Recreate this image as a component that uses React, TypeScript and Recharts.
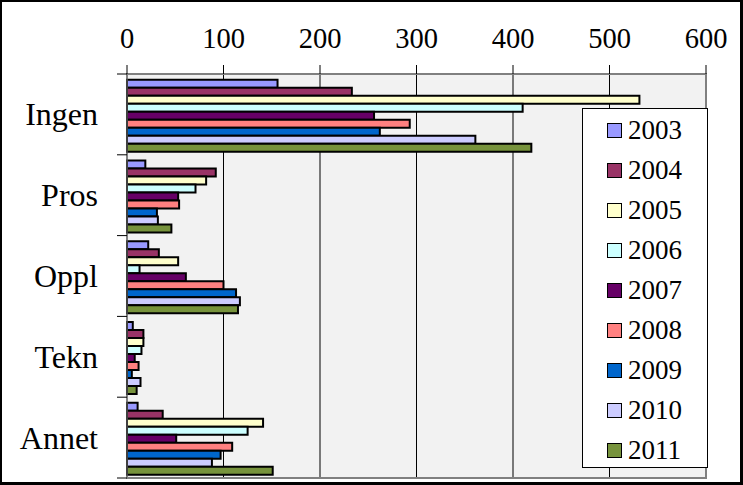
import {
  Bar,
  BarChart,
  CartesianGrid,
  Legend,
  ReferenceArea,
  XAxis,
  YAxis,
} from 'recharts'

const CATEGORIES = ['Ingen', 'Pros', 'Oppl', 'Tekn', 'Annet']
const YEARS = ['2003', '2004', '2005', '2006', '2007', '2008', '2009', '2010', '2011']
const X_TICKS = [0, 100, 200, 300, 400, 500, 600]

const V2003 = [156, 19, 22, 6, 11]
const V2004 = [233, 92, 33, 17, 37]
const V2005 = [531, 82, 53, 17, 141]
const V2006 = [410, 71, 13, 15, 125]
const V2007 = [256, 53, 61, 8, 51]
const V2008 = [293, 54, 100, 12, 109]
const V2009 = [262, 31, 113, 5, 97]
const V2010 = [361, 32, 117, 14, 88]
const V2011 = [419, 46, 115, 10, 151]

const SERIES = [V2003, V2004, V2005, V2006, V2007, V2008, V2009, V2010, V2011]

const COLORS = [
  '#9999FF',
  '#993366',
  '#FFFFCC',
  '#CCFFFF',
  '#660066',
  '#FF8080',
  '#0066CC',
  '#CCCCFF',
  '#77933C',
]

const W = 743
const H = 485
const PLOT_TOP = 74
const PLOT_BOTTOM = 478
const PLOT_LEFT = 127
const PLOT_RIGHT = 706
const BAND = (PLOT_BOTTOM - PLOT_TOP) / CATEGORIES.length
const FONT = '"Liberation Serif", "Times New Roman", serif'

const data = CATEGORIES.map((name, i) => {
  const row: Record<string, string | number> = { name }
  YEARS.forEach((y, j) => {
    row[y] = SERIES[j][i]
  })
  return row
})

function CategoryTick(props: any) {
  const { x, y, payload, index } = props
  const top = y - BAND / 2
  const last = index === CATEGORIES.length - 1
  return (
    <g>
      <line x1={PLOT_LEFT - 10} x2={PLOT_LEFT} y1={top} y2={top} stroke="#000" />
      {last && (
        <line
          x1={PLOT_LEFT - 10}
          x2={PLOT_LEFT}
          y1={top + BAND}
          y2={top + BAND}
          stroke="#000"
        />
      )}
      <text
        x={x}
        y={y}
        dy={11}
        textAnchor="end"
        fill="#000"
        fontSize={32}
        fontFamily={FONT}
      >
        {payload.value}
      </text>
    </g>
  )
}

function LegendBox(props: any) {
  const items = props.payload || []
  return (
    <div
      style={{
        width: 126,
        height: 360,
        boxSizing: 'border-box',
        border: '1px solid #000',
        background: '#fff',
        paddingTop: 2,
        fontFamily: FONT,
      }}
    >
      {items.map((it: any) => (
        <div
          key={it.value}
          style={{
            height: 39.9,
            display: 'flex',
            alignItems: 'center',
            paddingLeft: 24,
          }}
        >
          <span
            style={{
              display: 'inline-block',
              width: 15,
              height: 15,
              boxSizing: 'border-box',
              border: '1.5px solid #000',
              background: it.color,
              marginRight: 6,
            }}
          />
          <span style={{ fontSize: 27, color: '#000', lineHeight: '27px', fontFamily: FONT }}>
            {it.value}
          </span>
        </div>
      ))}
    </div>
  )
}

export default function App() {
  return (
    <div
      style={{
        position: 'absolute',
        left: 0,
        top: 0,
        width: W,
        height: H,
        background: '#fff',
        fontFamily: FONT,
      }}
    >
      <BarChart
        width={W}
        height={H}
        data={data}
        layout="vertical"
        margin={{ top: PLOT_TOP - 40, right: W - PLOT_RIGHT, bottom: H - PLOT_BOTTOM, left: 0 }}
        barCategoryGap="7%"
        barGap={0}
      >
        <CartesianGrid horizontal={false} stroke="#000" fill="#f2f2f2" />
        <ReferenceArea x1={0} x2={600} fill="none" stroke="#808080" strokeWidth={2} />
        <XAxis
          type="number"
          orientation="top"
          domain={[0, 600]}
          ticks={X_TICKS}
          height={40}
          tickSize={9}
          tickMargin={17}
          tick={{ fill: '#000', fontSize: 28.5, fontFamily: FONT }}
          tickLine={{ stroke: '#000' }}
          axisLine={{ stroke: '#808080' }}
        />
        <YAxis
          type="category"
          dataKey="name"
          width={PLOT_LEFT}
          tickSize={0}
          tickMargin={29}
          tick={<CategoryTick />}
          tickLine={false}
          axisLine={{ stroke: '#808080' }}
          interval={0}
        />
        {YEARS.map((y, i) => (
          <Bar
            key={y}
            dataKey={y}
            name={y}
            fill={COLORS[i]}
            stroke="#000"
            strokeWidth={2}
            isAnimationActive={false}
          />
        ))}
        <Legend
          layout="horizontal"
          verticalAlign="middle"
          align="center"
          content={<LegendBox />}
          wrapperStyle={{ left: 582, top: 108, width: 126, height: 360 }}
        />
      </BarChart>
      <div
        style={{
          position: 'absolute',
          inset: 0,
          boxSizing: 'border-box',
          borderTop: '2px solid #000',
          borderLeft: '2px solid #000',
          borderRight: '3px solid #000',
          borderBottom: '3px solid #000',
          pointerEvents: 'none',
        }}
      />
    </div>
  )
}
